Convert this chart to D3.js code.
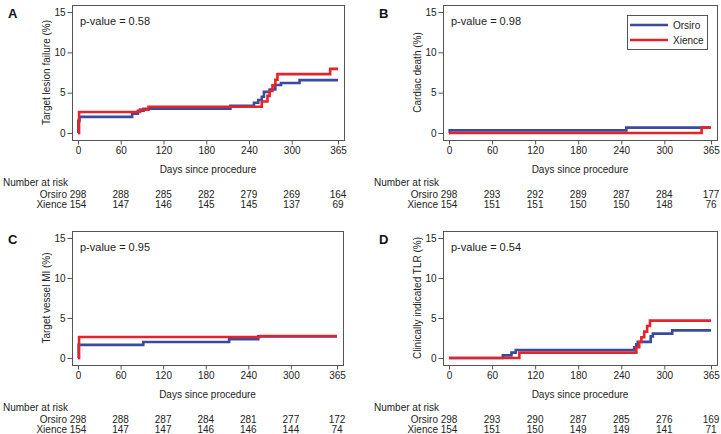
<!DOCTYPE html>
<html><head><meta charset="utf-8">
<script src="https://cdn.jsdelivr.net/npm/d3@7"></script>
<style>
html,body{margin:0;padding:0;background:#fff;}
svg{display:block;font-family:"Liberation Sans",Arial,sans-serif;}
</style></head>
<body>
<svg id="chart" width="721" height="434"></svg>
<script>
// ---- data ----
const panelLetters = ["A", "B", "C", "D"];
const yTitles = ["Target lesion failure (%)", "Cardiac death (%)", "Target vessel MI (%)", "Clinically indicated TLR (%)"];
const pValues = ["p-value = 0.58", "p-value = 0.98", "p-value = 0.95", "p-value = 0.54"];
const seriesNames = ["Orsiro", "Xience"];
const xTicks = [0, 60, 120, 180, 240, 300, 365];
const yTicks = [0, 5, 10, 15];

// step curves [day, cumulative incidence %]
const orsiroA = [[0,0],[0.5,1.5],[2,2.0],[76,2.4],[84,2.75],[92,3.0],[214,3.38],[247,3.75],[253,4.1],[258,4.5],[261,5.1],[269,5.4],[277,5.95],[285,6.2],[311,6.55],[365,6.55]];
const xienceA = [[0,0],[1.5,2.6],[87,2.9],[99,3.26],[258,3.9],[266,4.6],[269,5.2],[273,5.9],[277,6.6],[280,7.3],[354,7.95],[365,7.95]];
const orsiroB = [[0,0],[1,0.33],[247,0.67],[365,0.67]];
const xienceB = [[0,0],[352,0.67],[365,0.67]];
const orsiroC = [[0,0],[1,1.64],[92,2.0],[213,2.34],[254,2.7],[365,2.7]];
const xienceC = [[0,0],[1.5,2.63],[256,2.75],[365,2.75]];
const orsiroD = [[0,0],[75,0.33],[87,0.67],[93,1.0],[258,1.35],[261,1.7],[263,2.02],[281,2.7],[284,3.05],[311,3.45],[365,3.45]];
const xienceD = [[0,0],[98,0.67],[261,1.35],[265,2.0],[268,2.6],[272,3.3],[276,4.0],[280,4.67],[365,4.67]];

const riskOrsiro = [[298,288,285,282,279,269,164],[298,293,292,289,287,284,177],[298,288,287,284,281,277,172],[298,293,290,287,285,276,169]];
const riskXience = [[154,147,146,145,145,137,69],[154,151,151,150,150,148,76],[154,147,147,146,146,144,74],[154,151,150,149,149,141,71]];

const curves = [[orsiroA, xienceA],[orsiroB, xienceB],[orsiroC, xienceC],[orsiroD, xienceD]];

// ---- layout ----
const colors = ["#3a4a9f", "#e5232b"];
const boxes = [
  {x0:72, x1:344, y0:5, y1:140},
  {x0:443, x1:717, y0:5, y1:140},
  {x0:72, x1:343, y0:231, y1:365},
  {x0:443, x1:717, y0:231, y1:365}
];
const svg = d3.select("#chart");
const axisCol = "#555";
const txtCol = "#222";

boxes.forEach((b, i) => {
  const g = svg.append("g");
  const x = d3.scaleLinear().domain([0,365]).range([b.x0+6, b.x1-6]);
  const y = d3.scaleLinear().domain([0,15]).range([b.y1-7, b.y0+7]);

  // frame
  g.append("rect").attr("x", b.x0+0.5).attr("y", b.y0+0.5)
    .attr("width", b.x1-b.x0).attr("height", b.y1-b.y0)
    .attr("fill", "none").attr("stroke", axisCol).attr("stroke-width", 1);

  // y axis
  const ya = g.append("g").attr("transform", `translate(${b.x0+0.5},0)`)
    .call(d3.axisLeft(y).tickValues(yTicks).tickSize(5).tickPadding(2));
  ya.select(".domain").remove();
  ya.selectAll("line").attr("stroke", axisCol);
  ya.selectAll("text").attr("fill", txtCol).style("font-size", "10px").style("font-family", "Liberation Sans, Arial, sans-serif");

  // x axis
  const xa = g.append("g").attr("transform", `translate(0,${b.y1+0.5})`)
    .call(d3.axisBottom(x).tickValues(xTicks).tickSize(4).tickPadding(2));
  xa.select(".domain").remove();
  xa.selectAll("line").attr("stroke", axisCol);
  xa.selectAll("text").attr("fill", txtCol).style("font-size", "10px").style("font-family", "Liberation Sans, Arial, sans-serif");

  // titles
  g.append("text").attr("x", (x(0)+x(365))/2).attr("y", b.y1+29).attr("dy", "0.35em")
    .attr("text-anchor", "middle").attr("fill", txtCol).style("font-size", "10px")
    .text("Days since procedure");
  g.append("text").attr("transform", `translate(${b.x0-26},${(y(0)+y(15))/2}) rotate(-90)`)
    .attr("text-anchor", "middle").attr("dy", "0.35em").attr("fill", txtCol).style("font-size", "10px")
    .text(yTitles[i]);
  g.append("text").attr("x", b.x0-64).attr("y", b.y0+8).attr("dy", "0.35em")
    .attr("fill", "#111").style("font-size", "13px").style("font-weight", "bold")
    .text(panelLetters[i]);
  g.append("text").attr("x", b.x0+8).attr("y", b.y0+16).attr("dy", "0.35em")
    .attr("fill", txtCol).style("font-size", "11px").text(pValues[i]);

  // curves
  const line = d3.line().x(d => x(d[0])).y(d => y(d[1])).curve(d3.curveStepAfter);
  curves[i].forEach((c, k) => {
    g.append("path").datum(c).attr("d", line).attr("fill", "none")
      .attr("stroke", colors[k]).attr("stroke-width", 2.6).attr("stroke-linejoin", "miter");
  });

  // number at risk
  g.append("text").attr("x", b.x0-69).attr("y", b.y1+42).attr("dy", "0.35em")
    .attr("fill", txtCol).style("font-size", "10px").text("Number at risk");
  [riskOrsiro[i], riskXience[i]].forEach((row, k) => {
    const yy = b.y1 + 54 + k*10.5;
    g.append("text").attr("x", x(0)-11).attr("y", yy).attr("dy", "0.35em")
      .attr("text-anchor", "end").attr("fill", txtCol).style("font-size", "10px").text(seriesNames[k]);
    g.selectAll(null).data(row).enter().append("text")
      .attr("x", (d, j) => x(xTicks[j])).attr("y", yy).attr("dy", "0.35em")
      .attr("text-anchor", "middle").attr("fill", txtCol).style("font-size", "10px")
      .text(d => d);
  });

  // legend in panel B
  if (i === 1) {
    const lg = g.append("g");
    lg.append("rect").attr("x", 627.5).attr("y", 15.5).attr("width", 80).attr("height", 34)
      .attr("fill", "#fff").attr("stroke", axisCol);
    seriesNames.forEach((n, k) => {
      const ly = 25 + k*15;
      lg.append("line").attr("x1", 630).attr("x2", 668).attr("y1", ly).attr("y2", ly)
        .attr("stroke", colors[k]).attr("stroke-width", 2.6);
      lg.append("text").attr("x", 673).attr("y", ly).attr("dy", "0.35em")
        .attr("fill", txtCol).style("font-size", "10px").text(n);
    });
  }
});
</script>
</body></html>
